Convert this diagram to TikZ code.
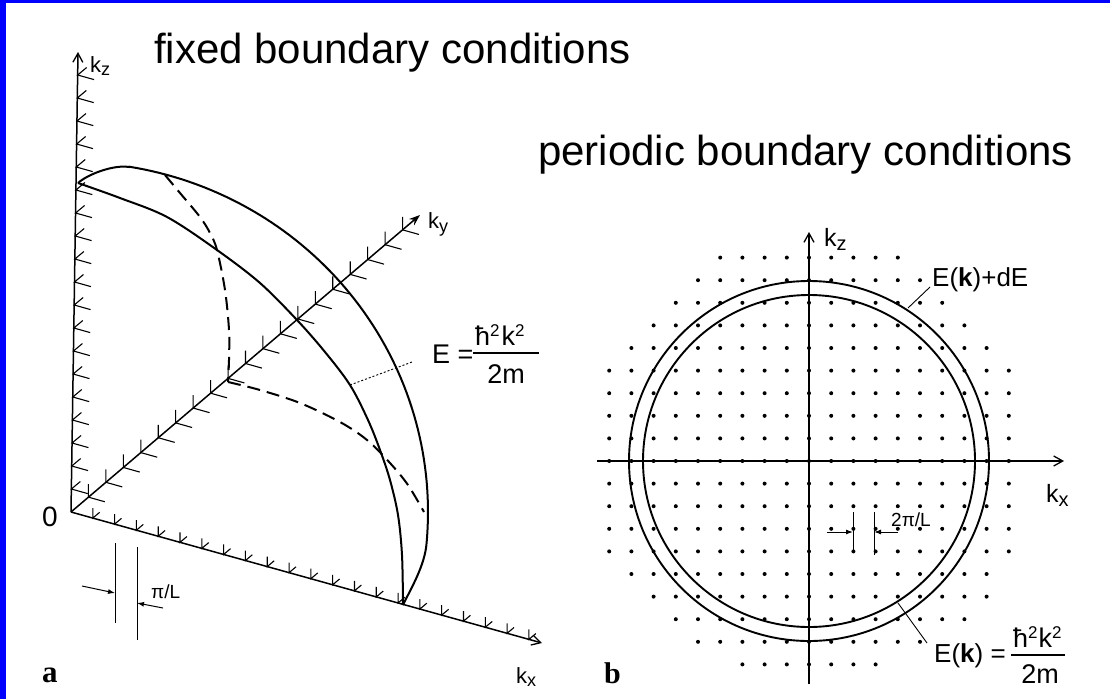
\documentclass[tikz,border=0pt]{standalone}
\usepackage{fontspec}
\setmainfont{Liberation Sans}
\newfontfamily\serifbold{Liberation Serif}
\usetikzlibrary{arrows.meta,calc}
\begin{document}
\begin{tikzpicture}[x=1pt,y=-1pt,
  axisline/.style={line width=1.5pt,-{Straight Barb[length=9pt,width=10pt,line width=1.3pt]}},
  axisfill/.style={line width=1.5pt,-{Stealth[length=11pt,width=8pt]}},
  tickmark/.style={line width=1.1pt},
  sphereline/.style={line width=2pt},
  hidden/.style={line width=2pt,dash pattern=on 13pt off 7pt},
  leader/.style={line width=0.9pt},
  dotleader/.style={line width=0.9pt,dash pattern=on 2pt off 2pt},
  marker/.style={line width=1pt},
  markarrow/.style={line width=1pt,-{Latex[length=7pt,width=5pt]}},
  lbl/.style={inner sep=0pt},
  title/.style={lbl,font=\fontsize{42}{50}\selectfont},
  axlbl/.style={lbl,anchor=base west,font=\fontsize{22}{24}\selectfont},
  axlblb/.style={lbl,anchor=base west,font=\fontsize{25}{28}\selectfont},
  formula/.style={lbl,font=\fontsize{27}{30}\selectfont},
  panel/.style={lbl,anchor=base west,font=\serifbold\bfseries\fontsize{31}{34}\selectfont},
  gridpt/.style={fill=black}
]
\useasboundingbox (0,0) rectangle (1110,699);
\fill[white] (0,0) rectangle (1110,699);
\fill[blue] (0,0) rectangle (6,699);
\fill[blue] (0,0) rectangle (1110,3);

% titles
\node[title,anchor=base west] (t1) at (154,63) {fixed boundary conditions};
\node[title,anchor=base west] (t2) at (538,165) {periodic boundary conditions};

% ---------------- panel a ----------------
\coordinate (O) at (71,512);
\coordinate (Zt) at (78,52);
\coordinate (Yt) at (420,215);
\coordinate (Xt) at (542,643);

\foreach \k in {1,...,19}
  \draw[tickmark] ($(O)!\k/20!(Zt)$) ++(9,-7.5) -- ++(-9,7.5) -- ++(16.4,4.6);
\foreach \k in {1,...,19}
  \draw[tickmark] ($(O)!\k/20!(Yt)$) ++(0,-13) -- ++(0,13) -- ++(16.4,4.6);
\foreach \k in {1,...,21}
  \draw[tickmark] ($(O)!\k/21.6!(Xt)$) ++(0,-10) -- ++(0,10) -- ++(6.9,-5.8);

\draw[axisline] (O) -- (Zt);
\draw[axisfill] (O) -- (Yt);
\draw[axisline] (O) -- (Xt);

% sphere octant: outline
\coordinate (kzi) at (78,183);
\coordinate (kxi) at (403,605);
\coordinate (kyi) at (228,382);
\draw[sphereline] (kzi) .. controls (88,174) and (114,164.5) .. (129,167)
  -- plot[domain=-80.6:5,samples=70] ({71+357*cos(\x)},{512+350*sin(\x)})
  .. controls (425,566) and (410,590) .. (kxi);
% front quarter circle
\draw[sphereline] plot[smooth,tension=0.55] coordinates {(78,183) (120,198) (167,217) (217,250) (260,283) (297,320) (325,352) (350,385) (368,420) (380,450) (390,480) (398,515) (402,555) (403,605)};
% hidden quarter circles
\draw[hidden] plot[smooth,tension=0.55] coordinates {(165,175) (180,193) (200,217) (210,233) (217,250) (225,290) (229,330) (229,360) (228,382)};
\draw[hidden] plot[smooth,tension=0.55] coordinates {(228,382) (260,390) (300,403) (340,422) (367,440) (390,463) (408,485) (424,512)};

% leader to formula
\coordinate (da) at (350,385);
\coordinate (db) at (412,362);
\draw[dotleader] (da) -- (db);

% labels panel a
\node[lbl,font=\fontsize{28}{30}\selectfont] (zero) at (50,517) {0};
\node[axlbl] (kza) at (90,72) {k\raisebox{-3pt}{\fontsize{18}{20}\selectfont z}};
\node[axlbl] (kya) at (428,228) {k\raisebox{-4pt}{\fontsize{18}{20}\selectfont y}};
\node[axlbl] (kxa) at (516,683) {k\raisebox{-3pt}{\fontsize{18}{20}\selectfont x}};
\node[panel] (la) at (42,682) {a};

\node[formula,anchor=base west] (Ea) at (432,363) {E =};
\node[formula,anchor=base west] (numa) at (475,345) {ħ\raisebox{9pt}{\fontsize{17}{18}\selectfont 2}\kern2pt k\raisebox{9pt}{\fontsize{17}{18}\selectfont 2}};
\node[formula,anchor=base] (dena) at (506,383) {2m};
\coordinate (bara) at (473,353);
\coordinate (barb) at (539,353);
\draw[line width=1.1pt] (bara) -- (barb);

% pi/L marker
\coordinate (m1t) at (115,543); \coordinate (m1b) at (115,623);
\coordinate (m2t) at (137,547); \coordinate (m2b) at (137,640);
\draw[marker] (m1t) -- (m1b);
\draw[marker] (m2t) -- (m2b);
\coordinate (a1s) at (82,586); \coordinate (a1e) at (115,593);
\coordinate (a2s) at (163,608); \coordinate (a2e) at (137,603);
\draw[markarrow] (a1s) -- (a1e);
\draw[markarrow] (a2s) -- (a2e);
\node[lbl,anchor=base west,font=\fontsize{19}{20}\selectfont] (piL) at (151,598) {π/L};

% ---------------- panel b ----------------
\coordinate (C) at (809,461);
\foreach \n/\a/\b in {-9/-4/4,-8/-5/5,-7/-6/6,-6/-7/7,-5/-8/8,-4/-9/9,-3/-9/9,-2/-9/9,-1/-9/9,0/-9/9,1/-9/9,2/-9/9,3/-9/9,4/-9/9,5/-8/8,6/-7/8,7/-6/7,8/-5/5,9/-3/3}
  \foreach \m in {\a,...,\b}
    \fill[gridpt] ($(C)+(\m*22.2,\n*22.6)$) circle (2.0);

\draw[sphereline,line width=1.9pt] (C) circle (180);
\draw[sphereline,line width=1.9pt] (C) circle (166);

\coordinate (bxl) at (597,461); \coordinate (bxr) at (1064,461);
\coordinate (bzb) at (809,684); \coordinate (bzt) at (809,232);
\draw[axisline] (bxl) -- (bxr);
\draw[axisline] (bzb) -- (bzt);

\node[axlblb] (kzb) at (824,246) {k\raisebox{-4pt}{\fontsize{20}{22}\selectfont z}};
\node[axlblb] (kxb) at (1046,502) {k\raisebox{-4pt}{\fontsize{20}{22}\selectfont x}};

% E(k)+dE
\coordinate (l1a) at (908,308); \coordinate (l1b) at (930,287);
\draw[leader] (l1a) -- (l1b);
\node[formula,anchor=base west,font=\fontsize{26}{28}\selectfont] (dE) at (932,286) {E(\textbf{k})+dE};

% E(k) = ...
\coordinate (l2a) at (898,603); \coordinate (l2b) at (927,643);
\draw[leader] (l2a) -- (l2b);
\node[formula,anchor=base west,font=\fontsize{26}{28}\selectfont] (Ekb) at (934,662) {E(\textbf{k}) =};
\node[formula,anchor=base west] (numb) at (1013,647) {ħ\raisebox{9pt}{\fontsize{17}{18}\selectfont 2}\kern1pt k\raisebox{9pt}{\fontsize{17}{18}\selectfont 2}};
\node[formula,anchor=base] (denb) at (1040,683) {2m};
\coordinate (barc) at (1011,655);
\coordinate (bard) at (1065,655);
\draw[line width=1.1pt] (barc) -- (bard);

% 2pi/L marker
\coordinate (n1t) at (853,512); \coordinate (n1b) at (853,553);
\coordinate (n2t) at (874,512); \coordinate (n2b) at (874,555);
\draw[marker] (n1t) -- (n1b);
\draw[marker] (n2t) -- (n2b);
\coordinate (b1s) at (827,532); \coordinate (b1e) at (853,532);
\coordinate (b2s) at (898,532); \coordinate (b2e) at (874,532);
\draw[markarrow] (b1s) -- (b1e);
\draw[markarrow] (b2s) -- (b2e);
\node[lbl,anchor=base west,font=\fontsize{19}{20}\selectfont] (tpL) at (891,526) {2π/L};

\node[panel,font=\serifbold\bfseries\fontsize{30}{32}\selectfont] (lb) at (604,683) {b};
\end{tikzpicture}
\end{document}
